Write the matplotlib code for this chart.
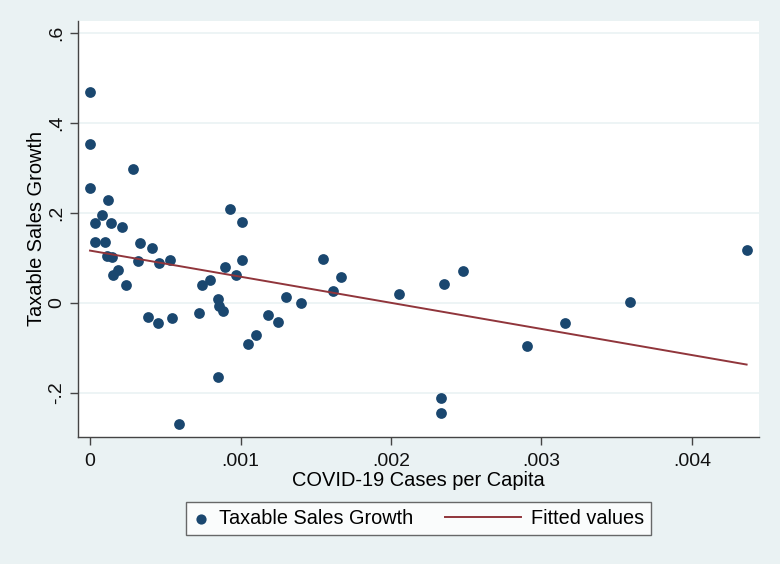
import matplotlib.pyplot as plt
import numpy as np
from matplotlib.lines import Line2D
from matplotlib.legend_handler import HandlerBase

# COVID-19 cases per capita vs taxable sales growth
cases = [0.0, 0.0, 0.0, 0.000286, 0.000122, 0.000078, 0.000035, 0.000140,
         0.000215, 0.000033, 0.000098, 0.000334, 0.000414, 0.000932, 0.001010,
         0.000111, 0.000148, 0.000321, 0.000458, 0.000532, 0.000899, 0.001008,
         0.000972, 0.000151, 0.000184, 0.000800, 0.000237, 0.000742, 0.000848,
         0.000857, 0.000886, 0.000388, 0.000454, 0.000543, 0.000724, 0.000853,
         0.000591, 0.001180, 0.001247, 0.001103, 0.001048, 0.001302, 0.001400,
         0.001546, 0.001670, 0.001617, 0.002055, 0.002354, 0.002476, 0.002330,
         0.002330, 0.002904, 0.003158, 0.003588, 0.004363]
growth = [0.470, 0.353, 0.256, 0.297, 0.230, 0.196, 0.177, 0.177,
          0.170, 0.136, 0.136, 0.133, 0.122, 0.210, 0.181,
          0.104, 0.103, 0.093, 0.090, 0.096, 0.079, 0.096,
          0.062, 0.062, 0.073, 0.052, 0.040, 0.040, 0.008,
          -0.007, -0.018, -0.032, -0.045, -0.033, -0.023, -0.165,
          -0.269, -0.027, -0.043, -0.070, -0.091, 0.013, -0.001,
          0.097, 0.058, 0.026, 0.019, 0.042, 0.072, -0.212,
          -0.244, -0.096, -0.044, 0.002, 0.117]

x_ticks = [0, 0.001, 0.002, 0.003, 0.004]
x_labels = ['0', '.001', '.002', '.003', '.004']
y_ticks = [-0.2, 0, 0.2, 0.4, 0.6]
y_labels = ['-.2', '0', '.2', '.4', '.6']

bg = '#eaf2f3'
navy = '#1a476f'
maroon = '#90353b'
axcol = '#444444'


class LongLine(HandlerBase):
    # stata-style legend key: line sticks out to the left of a short handle box
    def create_artists(self, legend, orig_handle, xdescent, ydescent,
                       width, height, fontsize, trans):
        ext = 3.0 * fontsize
        yy = height / 2 - ydescent
        ln = Line2D([-xdescent - ext, -xdescent + width], [yy, yy],
                    color=orig_handle.get_color(), lw=orig_handle.get_linewidth())
        ln.set_transform(trans)
        return [ln]


plt.rcParams['font.family'] = ['Liberation Sans', 'DejaVu Sans']

fig = plt.figure(figsize=(7.8, 5.64), dpi=100, facecolor=bg)
ax = fig.add_axes([0.1, 0.225, 0.873, 0.738])
ax.set_facecolor('white')

x = np.array(cases)
y = np.array(growth)
slope, inter = np.polyfit(x, y, 1)
xf = np.array([x.min(), x.max()])

ax.grid(axis='y', color=bg, lw=1.2, zorder=0)
pts = ax.scatter(x, y, s=60, color=navy, zorder=3, linewidths=0)
fit, = ax.plot(xf, inter + slope * xf, color=maroon, lw=1.4, zorder=4)

ax.set_xlim(-0.00008, 0.004445)
ax.set_ylim(-0.298, 0.627)
ax.set_xticks(x_ticks)
ax.set_xticklabels(x_labels, fontsize=14)
ax.set_yticks(y_ticks)
ax.set_yticklabels(y_labels, fontsize=14, rotation=90, va='center')

for s in ['top', 'right']:
    ax.spines[s].set_visible(False)
for s in ['left', 'bottom']:
    ax.spines[s].set_color(axcol)
    ax.spines[s].set_linewidth(1.0)
ax.tick_params(length=5.5, width=1, color=axcol, labelcolor='#111111')
ax.tick_params(axis='x', pad=6)
ax.tick_params(axis='y', pad=3.8)

ax.set_xlabel('COVID-19 Cases per Capita', fontsize=14.4, labelpad=1)
ax.set_ylabel('Taxable Sales Growth', fontsize=14.4, labelpad=1.5)

leg = fig.legend([pts, fit], ['Taxable Sales Growth', 'Fitted values'],
                 loc='center', bbox_to_anchor=(0.5365, 0.080), ncol=2,
                 fontsize=14.3, frameon=True, fancybox=False, edgecolor=axcol,
                 handlelength=0.8, handletextpad=0.5, columnspacing=4.6,
                 borderpad=0.35, markerscale=0.95, scatterpoints=1,
                 handler_map={Line2D: LongLine()})
leg.get_frame().set_linewidth(1.0)

fig.savefig('out.png', dpi=100, facecolor=bg)
